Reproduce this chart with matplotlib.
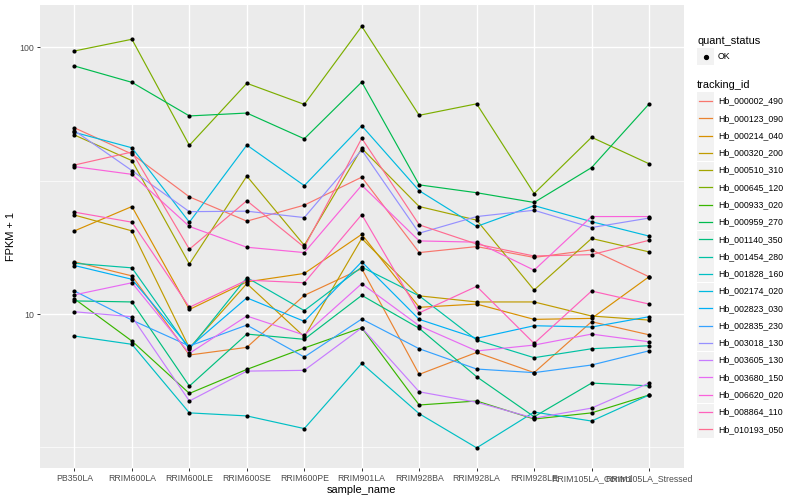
import numpy as np
import matplotlib.pyplot as plt
from matplotlib.patches import Rectangle
from matplotlib.lines import Line2D
from matplotlib.ticker import FixedLocator, NullFormatter

plt.rcParams['font.family'] = ['Liberation Sans', 'DejaVu Sans']

samples = ["PB350LA", "RRIM600LA", "RRIM600LE", "RRIM600SE", "RRIM600PE", "RRIM901LA",
           "RRIM928BA", "RRIM928LA", "RRIM928LE", "RRIM105LA_Control", "RRIM105LA_Stressed"]

tracking_ids = ["Hb_000002_490", "Hb_000123_090", "Hb_000214_040", "Hb_000320_200",
                "Hb_000510_310", "Hb_000645_120", "Hb_000933_020", "Hb_000959_270",
                "Hb_001140_350", "Hb_001454_280", "Hb_001828_160", "Hb_002174_020",
                "Hb_002823_030", "Hb_002835_230", "Hb_003018_130", "Hb_003605_130",
                "Hb_003680_150", "Hb_006620_020", "Hb_008864_110", "Hb_010193_050"]

# ggplot default hue palette for 20 groups
colors = ["#F8766D", "#EA8331", "#D89000", "#C09B00", "#A3A500", "#7CAE00", "#39B600",
          "#00BB4E", "#00BF7D", "#00C1A3", "#00BFC4", "#00BAE0", "#00B0F6", "#35A2FF",
          "#9590FF", "#C77CFF", "#E76BF3", "#FA62DB", "#FF62BC", "#FF6C91"]

# FPKM + 1, one list per gene, in sample order
hb_000002_490 = [49.9, 39.8, 27.5, 22.3, 25.6, 32.6, 17.0, 17.9, 16.3, 17.4, 13.8]
hb_000123_090 = [15.7, 13.9, 7.02, 7.50, 11.75, 14.8, 5.94, 7.18, 6.03, 9.36, 8.36]
hb_000214_040 = [20.5, 25.3, 10.4, 13.2, 14.2, 19.9, 10.6, 10.9, 9.55, 9.63, 13.8]
hb_000320_200 = [23.5, 20.5, 7.46, 13.0, 8.22, 19.2, 11.7, 11.1, 11.1, 9.83, 9.49]
hb_000510_310 = [46.9, 37.6, 15.4, 32.9, 18.1, 41.8, 25.3, 22.5, 12.3, 19.2, 17.1]
hb_000645_120 = [96.9, 107.2, 42.9, 73.3, 61.1, 119.9, 55.6, 61.4, 28.3, 46.0, 36.6]
hb_000933_020 = [11.4, 7.92, 5.04, 6.20, 7.46, 8.88, 4.56, 4.72, 4.04, 4.26, 4.97]
hb_000959_270 = [85.1, 73.9, 55.3, 56.7, 45.4, 74.1, 30.5, 28.5, 26.2, 35.4, 61.3]
hb_001140_350 = [11.2, 11.1, 5.37, 8.41, 8.04, 11.75, 8.84, 5.82, 4.12, 5.51, 5.38]
hb_001454_280 = [15.5, 14.9, 7.39, 13.7, 10.3, 15.0, 11.7, 7.99, 6.86, 7.41, 7.61]
hb_001828_160 = [8.27, 7.70, 4.26, 4.15, 3.72, 6.53, 4.23, 3.15, 4.29, 3.97, 4.97]
hb_002174_020 = [48.0, 42.0, 22.1, 43.0, 30.3, 50.8, 29.0, 21.3, 25.5, 22.2, 19.6]
hb_002823_030 = [15.2, 13.5, 7.50, 11.5, 9.39, 15.7, 9.55, 8.11, 9.04, 8.94, 9.77]
hb_002835_230 = [12.2, 9.49, 7.59, 9.09, 6.90, 9.58, 7.41, 6.22, 6.03, 6.44, 7.28]
hb_003018_130 = [48.7, 34.5, 24.2, 24.3, 23.0, 41.2, 20.1, 23.2, 24.5, 21.1, 22.9]
hb_003605_130 = [10.2, 9.77, 4.72, 6.11, 6.15, 8.88, 5.11, 4.67, 4.07, 4.44, 5.51]
hb_003680_150 = [11.8, 13.1, 7.12, 9.83, 8.34, 13.0, 9.04, 7.27, 7.65, 8.41, 7.87]
hb_006620_020 = [35.7, 33.4, 21.3, 17.8, 17.0, 30.4, 18.8, 18.6, 14.6, 23.2, 23.2]
hb_008864_110 = [24.1, 22.1, 10.6, 13.4, 13.1, 23.6, 10.1, 12.7, 7.76, 12.2, 10.9]
hb_010193_050 = [36.2, 40.5, 17.5, 26.6, 17.8, 45.6, 21.6, 18.3, 16.5, 16.7, 18.9]

series = [hb_000002_490, hb_000123_090, hb_000214_040, hb_000320_200, hb_000510_310,
          hb_000645_120, hb_000933_020, hb_000959_270, hb_001140_350, hb_001454_280,
          hb_001828_160, hb_002174_020, hb_002823_030, hb_002835_230, hb_003018_130,
          hb_003605_130, hb_003680_150, hb_006620_020, hb_008864_110, hb_010193_050]

fig = plt.figure(figsize=(8, 5), dpi=100)
ax = fig.add_axes([40 / 800, 32 / 500, 643.5 / 800, 463 / 500])
ax.set_facecolor("#EBEBEB")

x = np.arange(len(samples))
for vals, col in zip(series, colors):
    ax.plot(x, vals, color=col, lw=0.85, zorder=3)
for vals in series:
    ax.scatter(x, vals, s=9, color="black", zorder=4, linewidths=0)

ax.set_yscale("log")
ax.set_ylim(2.647, 144.1)
ax.set_xlim(-0.6, len(samples) - 0.4)
ax.yaxis.set_major_locator(FixedLocator([10, 100]))
ax.yaxis.set_minor_locator(FixedLocator([10 ** 0.5, 10 ** 1.5]))
ax.yaxis.set_minor_formatter(NullFormatter())
ax.set_yticklabels(["10", "100"])
ax.set_xticks(x)
ax.set_xticklabels(samples)
ax.grid(which="major", color="white", lw=1.0, zorder=0)
ax.grid(which="minor", axis="y", color="white", lw=0.5, zorder=0)
ax.set_axisbelow(True)
for sp in ax.spines.values():
    sp.set_visible(False)
ax.tick_params(which="major", length=2.5, width=0.7, color="#333333",
               labelcolor="#4D4D4D", labelsize=6.3, pad=2)
ax.tick_params(which="minor", length=0)
ax.set_xlabel("sample_name", fontsize=7.9, labelpad=1)
ax.set_ylabel("FPKM + 1", fontsize=7.9, labelpad=2)

# legends drawn to the right of the panel
W, H = 800, 500
def fx(px):
    return px / W
def fy(py):
    return 1 - py / H

fig.text(fx(697), fy(41), "quant_status", fontsize=7.9, va="center", ha="left")
fig.patches.append(Rectangle((fx(697), fy(65)), 17 / W, 17 / H, transform=fig.transFigure,
                             facecolor="#F2F2F2", edgecolor="none"))
fig.lines.append(Line2D([fx(705.5)], [fy(56.5)], transform=fig.transFigure, marker="o",
                        markersize=2.8, color="black", linestyle="none"))
fig.text(fx(718), fy(56.5), "OK", fontsize=6.3, va="center", ha="left")

fig.text(fx(697), fy(85), "tracking_id", fontsize=7.9, va="center", ha="left")
step = 17.28
for i, (name, col) in enumerate(zip(tracking_ids, colors)):
    yc = 101 + i * step
    fig.patches.append(Rectangle((fx(697), fy(yc + 8.5)), 17 / W, 17 / H,
                                 transform=fig.transFigure, facecolor="#F2F2F2",
                                 edgecolor="none"))
    fig.lines.append(Line2D([fx(699), fx(712)], [fy(yc), fy(yc)], transform=fig.transFigure,
                            color=col, lw=0.9))
    fig.text(fx(718), fy(yc), name, fontsize=6.3, va="center", ha="left")

fig.savefig("out.png", dpi=100)
